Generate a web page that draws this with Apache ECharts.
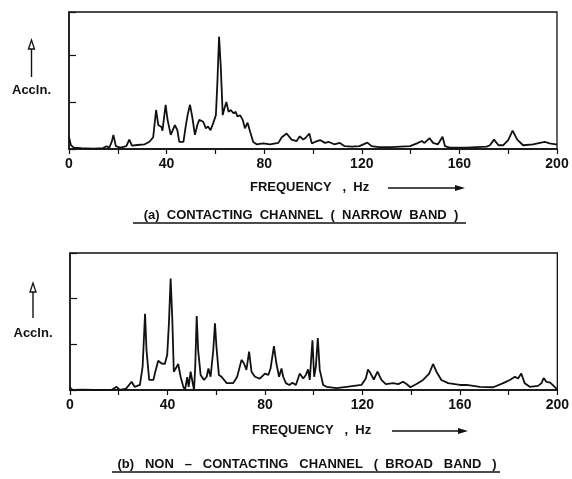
<!DOCTYPE html>
<html>
<head>
<meta charset="utf-8">
<script src="https://cdn.jsdelivr.net/npm/echarts@6/dist/echarts.min.js"></script>
<style>html,body{margin:0;padding:0;background:#fff;}#c{width:572px;height:479px;}</style>
</head>
<body>
<div id="c"></div>
<script>
// Frequency tick labels (Hz)
const freqTicks = [0, 40, 80, 120, 160, 200];

// (a) Contacting channel (narrow band): [frequency Hz, acceleration (arb. units)]
const contactingFreq = [0,0.8,2,5,10,14,15.4,16.5,17.5,18.2,19.2,21,23.5,24.7,25.8,28,31,33,34.5,35.7,36.6,37.9,38.3,39.6,40.4,41.7,43.4,44.4,45.2,46.9,47.8,48.6,49.6,50.5,51.6,52.6,53.4,55,56.1,57,58,59.1,60.2,60.8,61.5,62.2,63,63.5,64.5,65.4,66.3,67.4,68.3,69.1,70.1,71.2,72.1,73.2,74.2,75.5,76.9,79.6,82.4,85.8,87.2,89.2,91.2,93.3,94.6,96,97,98.5,99.5,100.8,102.9,104.9,106.5,108.7,111,113,116,119,122.3,124,127,132,139.8,142.6,144.6,145.7,147.8,149.2,151.2,153.1,154.1,156,163,171.2,172.5,174.2,176,178,180,181.8,183.7,186.1,190.2,193,195,197,199.5,200];
const contactingAcc = [0.25,0.08,0.03,0.02,0.01,0.02,0.06,0.03,0.15,0.30,0.06,0.03,0.06,0.20,0.07,0.085,0.10,0.155,0.25,0.83,0.51,0.47,0.39,0.94,0.62,0.30,0.51,0.40,0.15,0.15,0.47,0.72,0.94,0.69,0.30,0.51,0.62,0.58,0.44,0.48,0.40,0.55,0.72,1.40,2.39,1.75,0.72,0.83,1.00,0.79,0.83,0.76,0.79,0.69,0.72,0.62,0.44,0.56,0.37,0.15,0.10,0.12,0.10,0.13,0.25,0.33,0.20,0.17,0.27,0.20,0.24,0.33,0.12,0.15,0.19,0.13,0.15,0.10,0.13,0.06,0.05,0.06,0.135,0.06,0.04,0.04,0.06,0.12,0.17,0.13,0.23,0.13,0.10,0.26,0.06,0.03,0.03,0.05,0.08,0.20,0.08,0.08,0.19,0.39,0.20,0.08,0.10,0.13,0.15,0.12,0.10,0.10];

// (b) Non-contacting channel (broad band)
const nonContactFreq = [0,0.5,1.5,5,10,17,19.1,20.5,23,25.3,26.5,28.7,29.8,30.8,31.4,32.5,34.2,35.2,36.2,37.6,38.9,39.9,40.6,41.3,42,42.6,43.8,44.4,45.4,46.5,47.2,48.1,48.7,49.5,50.3,50.9,51.4,52,52.6,53.6,55,56.1,56.8,57.7,58.8,59.5,60.1,61.1,62.2,64.3,67,68.6,70.4,71.4,72.4,73.5,74.5,75.9,77.9,80,81.4,82.3,83.7,84.7,85.8,86.8,87.5,88.6,90,91.3,92.7,94.3,95.7,96.8,97.7,98.4,99.5,100.2,100.9,101.7,102.5,103.9,105.3,109.4,113.5,119.6,121.4,122.3,123.4,124.7,126.2,127.8,129.6,132.6,134.7,136.7,138.1,139.7,142.2,144.9,147.4,149,150.4,152.4,155.2,160,162.7,168.2,173.7,177.8,180.5,182.6,183.9,185.2,186.6,188.7,192.1,193.5,194.4,195.5,197.1,198.9,200];
const nonContactAcc = [0.07,0.02,0.0,0.01,0.0,0.0,0.07,0.0,0.03,0.18,0.07,0.11,0.51,1.67,0.87,0.22,0.22,0.44,0.64,0.58,0.57,0.77,1.46,2.44,1.53,0.40,0.51,0.57,0.29,0.07,0.0,0.28,0.07,0.40,0.38,0.0,0.51,1.62,0.87,0.33,0.22,0.29,0.47,0.29,0.87,1.46,0.95,0.33,0.29,0.15,0.15,0.29,0.66,0.58,0.44,0.84,0.40,0.29,0.25,0.36,0.33,0.47,0.96,0.58,0.29,0.47,0.29,0.15,0.11,0.16,0.11,0.36,0.25,0.33,0.45,0.22,1.09,0.29,0.51,1.14,0.44,0.11,0.07,0.04,0.07,0.11,0.25,0.45,0.36,0.23,0.40,0.22,0.13,0.15,0.13,0.18,0.13,0.06,0.13,0.22,0.36,0.57,0.40,0.22,0.15,0.11,0.11,0.07,0.06,0.15,0.22,0.29,0.25,0.36,0.15,0.07,0.09,0.15,0.26,0.18,0.16,0.07,0.01];

const pairs = (xs, ys) => xs.map((x, i) => [x, ys[i]]);

const chart = echarts.init(document.getElementById('c'), null, {renderer: 'canvas'});
const FONT = '"Liberation Sans", Arial, sans-serif';
const INK = '#111';

function xAxisCfg(gi) {
  return {
    type: 'value', gridIndex: gi, min: 0, max: 200, interval: 20,
    axisLine: {show: true, lineStyle: {color: INK, width: 1.5}},
    axisTick: {show: true, inside: false, length: 5, lineStyle: {color: INK, width: 1.2}},
    axisLabel: {
      margin: 8, color: INK, fontSize: 14, fontFamily: FONT, fontWeight: 'bold',
      formatter: v => (freqTicks.indexOf(v) >= 0 ? String(v) : '')
    },
    splitLine: {show: false}
  };
}
function yAxisCfg(gi, max) {
  return {
    type: 'value', gridIndex: gi, min: 0, max: max, interval: 1,
    axisLine: {show: true, lineStyle: {color: INK, width: 1.5}},
    axisTick: {show: true, inside: true, length: 7, lineStyle: {color: INK, width: 1.2}},
    axisLabel: {show: false},
    splitLine: {show: false}
  };
}

function freqLabel(x, y, ax1, ax2) {
  return [
    {type: 'text', style: {text: 'FREQUENCY   ,  Hz', x: x, y: y, font: 'bold 13px ' + FONT, fill: INK, textVerticalAlign: 'middle'}},
    {type: 'line', shape: {x1: ax1, y1: y + 1, x2: ax2 - 8, y2: y + 1}, style: {stroke: INK, lineWidth: 1.3}},
    {type: 'polygon', shape: {points: [[ax2 - 10, y - 2], [ax2, y + 1], [ax2 - 10, y + 4]]}, style: {fill: INK}}
  ];
}
function acclLabel(x, yText, yTop, yBot) {
  return [
    {type: 'line', shape: {x1: x, y1: yTop + 6, x2: x, y2: yBot}, style: {stroke: INK, lineWidth: 1.4}},
    {type: 'polygon', shape: {points: [[x - 3, yTop + 9], [x, yTop], [x + 3, yTop + 9]]}, style: {fill: '#fff', stroke: INK, lineWidth: 1.3}},
    {type: 'text', style: {text: 'Accln.', x: x, y: yText, font: 'bold 13px ' + FONT, fill: INK, textAlign: 'center', textVerticalAlign: 'middle'}}
  ];
}
function caption(text, cx, y, u1, u2) {
  return [
    {type: 'text', style: {text: text, x: cx, y: y, font: 'bold 13px ' + FONT, fill: INK, textAlign: 'center', textVerticalAlign: 'middle'}},
    {type: 'line', shape: {x1: u1, y1: y + 8, x2: u2, y2: y + 8}, style: {stroke: INK, lineWidth: 1.4}}
  ];
}

const option = {
  backgroundColor: '#fff',
  animation: false,
  grid: [
    {left: 69, top: 12, width: 488, height: 137, show: true, borderColor: INK, borderWidth: 1.3, backgroundColor: 'transparent'},
    {left: 70, top: 253, width: 488, height: 137, show: true, borderColor: INK, borderWidth: 1.3, backgroundColor: 'transparent'}
  ],
  xAxis: [xAxisCfg(0), xAxisCfg(1)],
  yAxis: [yAxisCfg(0, 2.915), yAxisCfg(1, 3)],
  series: [
    {type: 'line', xAxisIndex: 0, yAxisIndex: 0, data: pairs(contactingFreq, contactingAcc), showSymbol: false,
     lineStyle: {color: INK, width: 1.8}, smooth: false},
    {type: 'line', xAxisIndex: 1, yAxisIndex: 1, data: pairs(nonContactFreq, nonContactAcc), showSymbol: false,
     lineStyle: {color: INK, width: 1.8}, smooth: false}
  ],
  graphic: [].concat(
    acclLabel(31.5, 90, 40, 77),
    acclLabel(33, 333, 283, 318),
    freqLabel(250, 187, 388, 465),
    freqLabel(252, 430, 392, 468),
    caption('(a)  CONTACTING  CHANNEL  (  NARROW  BAND  )', 301, 215, 133, 466),
    caption('(b)   NON   \u2013   CONTACTING   CHANNEL   (  BROAD   BAND   )', 307, 464, 112, 500)
  )
};
chart.setOption(option);
</script>
</body>
</html>
